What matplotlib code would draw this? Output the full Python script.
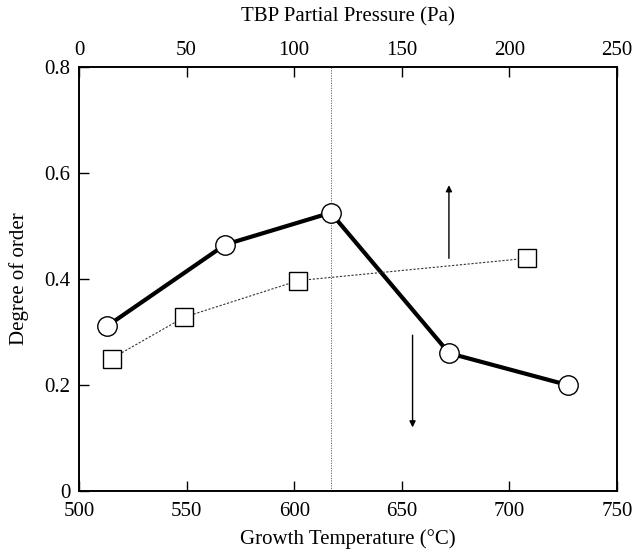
import matplotlib
matplotlib.use("Agg")
import matplotlib.pyplot as plt

plt.rcParams['font.family'] = ['Liberation Serif', 'DejaVu Serif']
plt.rcParams['mathtext.fontset'] = 'stix'

# Data
temp = [513, 568, 617, 672, 727]
order_temp = [0.311, 0.465, 0.525, 0.260, 0.200]
pressure = [15.2, 48.9, 101.9, 208]
order_pressure = [0.250, 0.328, 0.397, 0.439]
temp_ticks = [500, 550, 600, 650, 700, 750]
pressure_ticks = [0, 50, 100, 150, 200, 250]
y_ticks = [0, 0.2, 0.4, 0.6, 0.8]
y_ticklabels = ['0', '0.2', '0.4', '0.6', '0.8']
vline_temp = 617

fig = plt.figure(figsize=(6.34, 5.54), dpi=100)
ax = fig.add_axes([79/634, 1-491/554, (617-79)/634, (491-67)/554])
ax2 = ax.twiny()

fs = 15
ax.set_xlim(500, 750)
ax.set_ylim(0, 0.8)
ax2.set_xlim(0, 250)

ax.axvline(vline_temp, color='#555555', lw=0.6, ls=(0, (1.5, 1.5)), zorder=1)

ax2.plot(pressure, order_pressure, color='#333333', lw=0.8, ls=(0, (2, 1.5)),
         marker='s', markersize=13, markerfacecolor='white',
         markeredgecolor='black', markeredgewidth=1.0, zorder=3)
ax.plot(temp, order_temp, color='black', lw=3.0, marker='o', markersize=14,
        markerfacecolor='white', markeredgecolor='black', markeredgewidth=1.0,
        zorder=4)

# arrows
ax2.annotate('', xy=(171.9, 0.577), xytext=(171.9, 0.439),
             arrowprops=dict(arrowstyle='-|>', color='black', lw=1.0,
                             mutation_scale=9, shrinkA=0, shrinkB=0))
ax.annotate('', xy=(655, 0.12), xytext=(655, 0.294),
            arrowprops=dict(arrowstyle='-|>', color='black', lw=1.0,
                            mutation_scale=9, shrinkA=0, shrinkB=0))

ax.set_xticks(temp_ticks)
ax.set_yticks(y_ticks)
ax.set_yticklabels(y_ticklabels)
ax2.set_xticks(pressure_ticks)

ax.tick_params(axis='both', direction='in', length=7, width=1, labelsize=fs,
               top=False, right=False)
ax.tick_params(axis='x', pad=8)
ax.tick_params(axis='y', pad=6)
ax2.tick_params(axis='x', direction='in', length=7, width=1, labelsize=fs, pad=5)

for a in (ax, ax2):
    for s in a.spines.values():
        s.set_linewidth(1.2)

ax.set_xlabel('Growth Temperature (°C)', fontsize=fs, va='center')
ax.set_ylabel('Degree of order', fontsize=fs, va='center')
ax2.set_xlabel('TBP Partial Pressure (Pa)', fontsize=fs, va='center')
ax.xaxis.set_label_coords(0.5, (491 - 539) / 424)
ax.yaxis.set_label_coords((19 - 79) / 538, 0.5)
ax2.xaxis.set_label_coords(0.5, (491 - 17) / 424)

fig.savefig('out.png', dpi=100)
